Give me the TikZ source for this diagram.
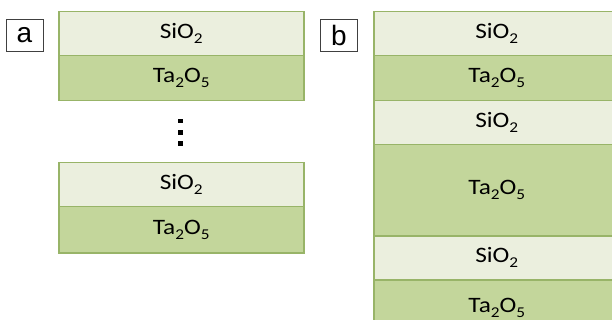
\documentclass[tikz,border=0pt]{standalone}
\usepackage{fontspec}
\setmainfont{Carlito}[FakeStretch=1.15]
\newfontfamily\labfont{Liberation Sans}
\newcommand\subsc[1]{\raisebox{-0.22em}{\fontsize{15}{15}\selectfont #1}}
\definecolor{lightlayer}{HTML}{EBEFDE}
\definecolor{darklayer}{HTML}{C3D69B}
\definecolor{layerline}{HTML}{98B468}
\definecolor{boxline}{HTML}{404040}
\tikzset{
  layer/.style={draw=layerline, line width=1.5pt, inner sep=0pt, anchor=north west,
    font=\fontsize{22}{22}\selectfont, text=black},
  silayer/.style={layer, fill=lightlayer},
  talayer/.style={layer, fill=darklayer},
  tag/.style={draw=boxline, line width=0.9pt, fill=white, inner sep=0pt,
    minimum width=37pt, minimum height=32pt, font=\labfont\fontsize{28}{28}\selectfont},
  dot/.style={fill=black, inner sep=0pt, minimum size=4.5pt}
}
\begin{document}
\begin{tikzpicture}[x=1pt,y=-1pt]
\useasboundingbox (0,0) rectangle (612,320);
\begin{scope}
\clip (0,0) rectangle (612,320);
% panel a
\node[tag] (ta) at (24.5,35) {a};
\node[silayer, minimum width=245pt, minimum height=44pt] (a1) at (58,11) {SiO\subsc{2}};
\node[talayer, minimum width=245pt, minimum height=45pt] (a2) at (58,55) {Ta\subsc{2}O\subsc{5}};
\node[dot] (d1) at (180.5,121) {};
\node[dot] (d2) at (180.5,132.3) {};
\node[dot] (d3) at (180.5,143.6) {};
\node[silayer, minimum width=245pt, minimum height=44pt] (a3) at (58,162) {SiO\subsc{2}};
\node[talayer, minimum width=245pt, minimum height=46pt] (a4) at (58,206) {Ta\subsc{2}O\subsc{5}};
% panel b
\node[tag] (tb) at (339,35.5) {b};
\node[silayer, minimum width=246pt, minimum height=44pt] (b1) at (373,11) {SiO\subsc{2}};
\node[talayer, minimum width=246pt, minimum height=45pt] (b2) at (373,55) {Ta\subsc{2}O\subsc{5}};
\node[silayer, minimum width=246pt, minimum height=44pt] (b3) at (373,100) {SiO\subsc{2}};
\node[talayer, minimum width=246pt, minimum height=91pt] (b4) at (373,144) {Ta\subsc{2}O\subsc{5}};
\node[silayer, minimum width=246pt, minimum height=44pt] (b5) at (373,235) {SiO\subsc{2}};
\node[talayer, minimum width=246pt, minimum height=56pt] (b6) at (373,279) {Ta\subsc{2}O\subsc{5}};
\end{scope}
\end{tikzpicture}
\end{document}
